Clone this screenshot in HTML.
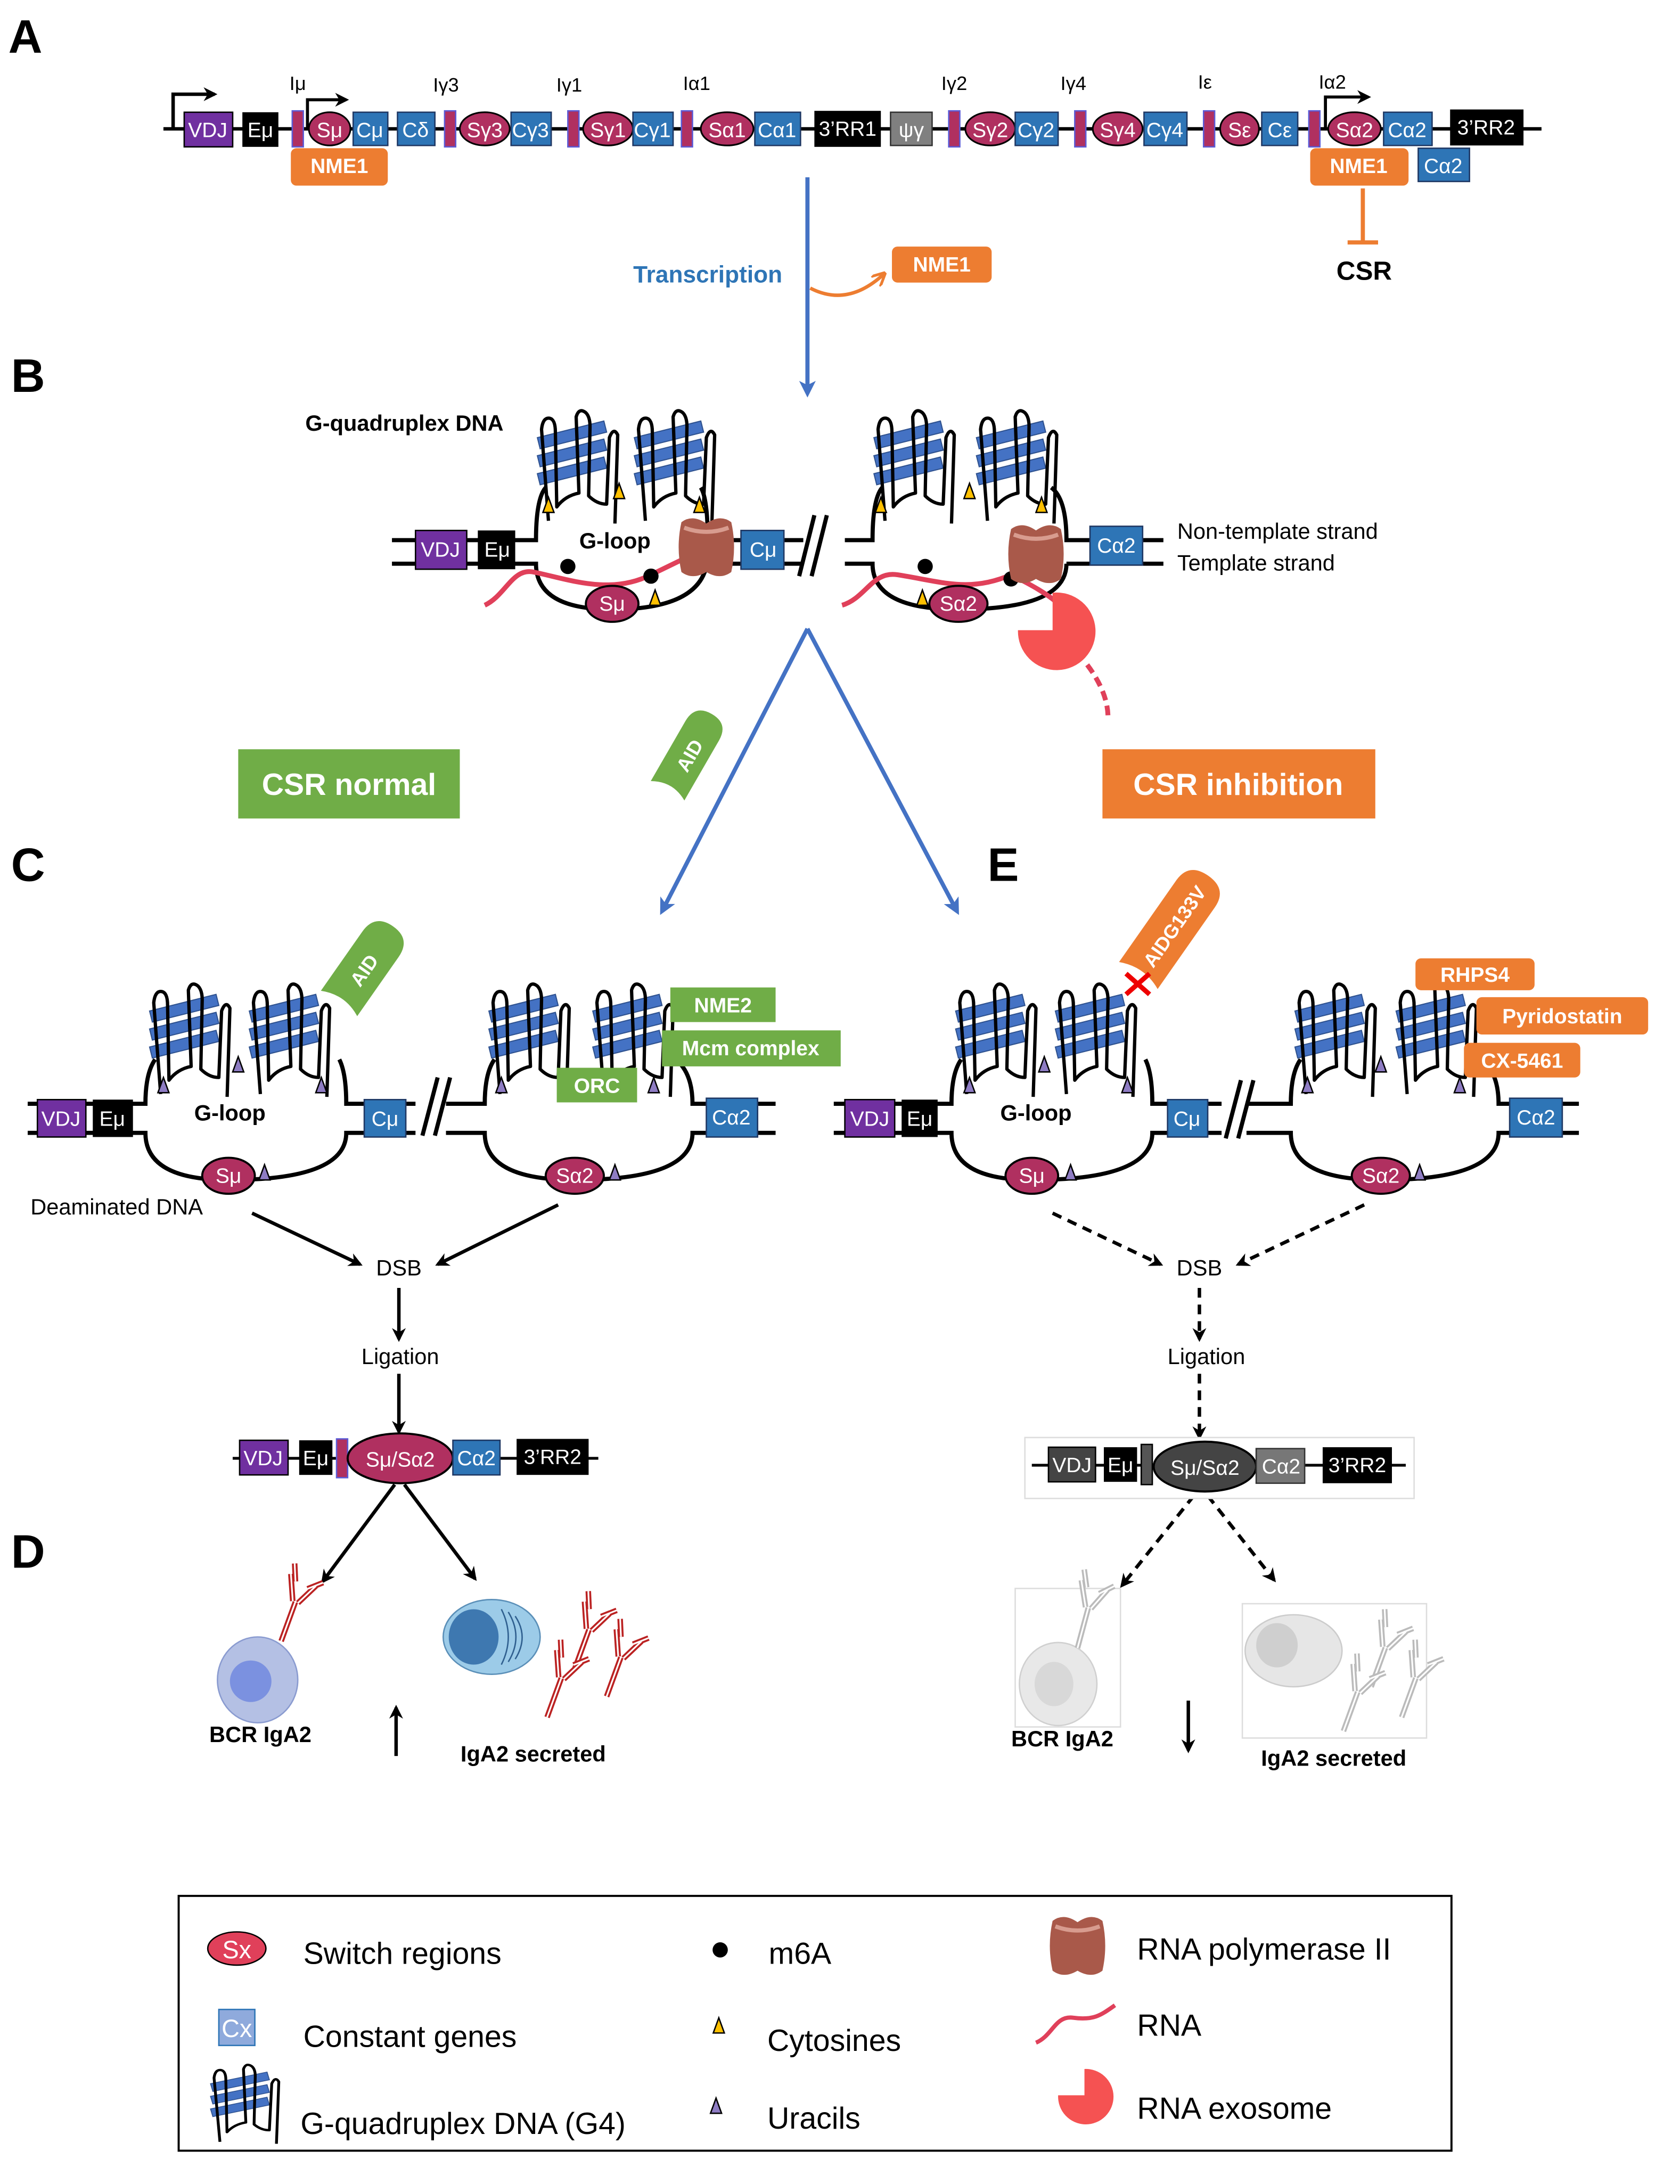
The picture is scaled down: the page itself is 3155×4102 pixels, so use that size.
<!DOCTYPE html>
<html><head><meta charset="utf-8">
<style>
html,body{margin:0;padding:0;background:#fff;}
svg{display:block;}
text{font-family:"Liberation Sans",sans-serif;}
</style></head>
<body>
<svg width="3155" height="4102" viewBox="0 0 1213 1577" xmlns="http://www.w3.org/2000/svg">
<defs>
  <g id="g4">
    <polygon points="0,18 48,6 50,14 2,26" fill="#4472c4" stroke="#2f528f" stroke-width="0.8"/>
    <polygon points="0,31 48,19 50,27 2,39" fill="#4472c4" stroke="#2f528f" stroke-width="0.8"/>
    <polygon points="0,44 48,32 50,40 2,52" fill="#4472c4" stroke="#2f528f" stroke-width="0.8"/>
    <path d="M8,78 L3,12 Q4,3 9,4 Q13,5 13,14 L14,68 Q20,60 30,58 L28,3 Q30,-4 35,0 Q38,3 38,10 L37,60 Q43,66 50,66 L52,18 Q55,10 58,16 L56,80" fill="none" stroke="#000" stroke-width="2.4" stroke-linejoin="round"/>
  </g>
  <g id="cyt"><polygon points="0,-7 4,4 -4,4" fill="#ffc000" stroke="#000" stroke-width="1"/></g>
  <g id="ura"><polygon points="0,-7 4,4 -4,4" fill="#8e7cc3" stroke="#000" stroke-width="1"/></g>
  <g id="pol">
    <path d="M-18,-18 Q-10,-24 0,-17 Q10,-24 18,-18 Q22,0 18,18 Q10,24 0,18 Q-10,24 -18,18 Q-22,0 -18,-18Z" fill="#a9594a"/>
    <path d="M-16,-14 Q0,-8 16,-14" stroke="#d89c8f" stroke-width="3" fill="none"/>
  </g>
  <marker id="ah" markerWidth="10" markerHeight="10" refX="8" refY="5" orient="auto" markerUnits="userSpaceOnUse"><path d="M0,0 L10,5 L0,10 L3,5Z" fill="#000"/></marker>
  <marker id="ahb" markerWidth="12" markerHeight="12" refX="9" refY="6" orient="auto" markerUnits="userSpaceOnUse"><path d="M0,0 L12,6 L0,12 L3,6Z" fill="#4472c4"/></marker>
  <marker id="aho" markerWidth="10" markerHeight="10" refX="8" refY="5" orient="auto" markerUnits="userSpaceOnUse"><path d="M0,0 L10,5 L0,10" fill="none" stroke="#ed7d31" stroke-width="2"/></marker>
  <g id="ab">
    <path d="M0,0 L0,-30 M-2,-30 L-10,-48 M2,-30 L10,-46 M-5,-44 L-10,-56 M5,-42 L14,-50" stroke="#b22" stroke-width="4" fill="none"/>
    <path d="M0,0 L0,-30 M-2,-30 L-10,-48 M2,-30 L10,-46 M-5,-44 L-10,-56 M5,-42 L14,-50" stroke="#fff" stroke-width="1.2" fill="none"/>
  </g>
  <g id="abg">
    <path d="M0,0 L0,-30 M-2,-30 L-10,-48 M2,-30 L10,-46 M-5,-44 L-10,-56 M5,-42 L14,-50" stroke="#bbb" stroke-width="4" fill="none"/>
    <path d="M0,0 L0,-30 M-2,-30 L-10,-48 M2,-30 L10,-46 M-5,-44 L-10,-56 M5,-42 L14,-50" stroke="#fff" stroke-width="1.2" fill="none"/>
  </g>
</defs>

<g font-weight="bold" font-size="34" fill="#000">
<text x="6" y="38">A</text><text x="8" y="283">B</text><text x="8" y="636">C</text><text x="8" y="1132">D</text><text x="713" y="636">E</text>
</g>

<!-- ===== PANEL A ===== -->
<line x1="118" y1="93" x2="1113" y2="93" stroke="#000" stroke-width="2.5"/>
<path d="M125,93 L125,68 L155,68" fill="none" stroke="#000" stroke-width="2.5" marker-end="url(#ah)"/>
<path d="M222,93 L222,72 L250,72" fill="none" stroke="#000" stroke-width="2.2" marker-end="url(#ah)"/>
<path d="M957,93 L957,70 L988,70" fill="none" stroke="#000" stroke-width="2.2" marker-end="url(#ah)"/>
<g font-size="15" fill="#fff" text-anchor="middle">
<rect x="133" y="81" width="35" height="25" fill="#7030a0" stroke="#000"/><text x="150" y="99">VDJ</text>
<rect x="175" y="81" width="26" height="25" fill="#000"/><text x="188" y="99">Eμ</text>
<g fill="#b03060" stroke="#5b5bd6" stroke-width="1">
<rect x="211" y="80" width="8" height="26"/><rect x="321" y="80" width="8" height="26"/><rect x="410" y="80" width="8" height="26"/><rect x="492" y="80" width="8" height="26"/><rect x="685" y="80" width="8" height="26"/><rect x="776" y="80" width="8" height="26"/><rect x="869" y="80" width="8" height="26"/><rect x="945" y="80" width="8" height="26"/>
</g>
<g fill="#b03060" stroke="#000" stroke-width="1.2">
<ellipse cx="238" cy="93" rx="15" ry="12"/><ellipse cx="350" cy="93" rx="18" ry="12"/><ellipse cx="439" cy="93" rx="18" ry="12"/><ellipse cx="525" cy="93" rx="19" ry="12"/><ellipse cx="715" cy="93" rx="18" ry="12"/><ellipse cx="807" cy="93" rx="18" ry="12"/><ellipse cx="895" cy="93" rx="14" ry="12"/><ellipse cx="978" cy="93" rx="19" ry="12"/>
</g>
<text x="238" y="99">Sμ</text><text x="350" y="99">Sγ3</text><text x="439" y="99">Sγ1</text><text x="525" y="99">Sα1</text><text x="715" y="99">Sγ2</text><text x="807" y="99">Sγ4</text><text x="895" y="99">Sε</text><text x="978" y="99">Sα2</text>
<g fill="#2e75b6" stroke="#1f3864" stroke-width="1">
<rect x="255" y="81" width="25" height="24"/><rect x="287" y="81" width="27" height="24"/><rect x="369" y="81" width="29" height="24"/><rect x="457" y="81" width="29" height="24"/><rect x="545" y="81" width="33" height="24"/><rect x="733" y="81" width="31" height="24"/><rect x="826" y="81" width="31" height="24"/><rect x="911" y="81" width="26" height="24"/><rect x="999" y="81" width="35" height="24"/><rect x="1024" y="107" width="37" height="24"/>
</g>
<text x="267" y="99">Cμ</text><text x="300" y="99">Cδ</text><text x="383" y="99">Cγ3</text><text x="471" y="99">Cγ1</text><text x="561" y="99">Cα1</text><text x="748" y="99">Cγ2</text><text x="841" y="99">Cγ4</text><text x="924" y="99">Cε</text><text x="1016" y="99">Cα2</text><text x="1042" y="125">Cα2</text>
<rect x="588" y="80" width="48" height="26" fill="#000"/><text x="612" y="98">3’RR1</text>
<rect x="643" y="81" width="30" height="24" fill="#808080" stroke="#333"/><text x="658" y="99">ψγ</text>
<rect x="1047" y="79" width="53" height="26" fill="#000"/><text x="1073" y="97">3’RR2</text>
</g>
<g font-size="14" fill="#000" text-anchor="middle">
<text x="215" y="65">Iμ</text><text x="322" y="66">Iγ3</text><text x="411" y="66">Iγ1</text><text x="503" y="65">Iα1</text><text x="689" y="65">Iγ2</text><text x="775" y="65">Iγ4</text><text x="870" y="64">Iε</text><text x="962" y="64">Iα2</text>
</g>
<g font-size="15" font-weight="bold" fill="#fff" text-anchor="middle">
<rect x="210" y="107" width="70" height="27" rx="4" fill="#ed7d31"/><text x="245" y="125">NME1</text>
<rect x="946" y="107" width="71" height="27" rx="4" fill="#ed7d31"/><text x="981" y="125">NME1</text>
<rect x="644" y="178" width="72" height="26" rx="4" fill="#ed7d31"/><text x="680" y="196">NME1</text>
</g>
<line x1="984" y1="136" x2="984" y2="175" stroke="#ed7d31" stroke-width="3"/>
<line x1="973" y1="175" x2="995" y2="175" stroke="#ed7d31" stroke-width="3"/>
<text x="985" y="202" font-size="19" font-weight="bold" text-anchor="middle">CSR</text>
<line x1="583" y1="128" x2="583" y2="284" stroke="#4472c4" stroke-width="3" marker-end="url(#ahb)"/>
<text x="511" y="204" font-size="17" font-weight="bold" fill="#2e75b6" text-anchor="middle">Transcription</text>
<path d="M585,208 Q612,222 638,198" fill="none" stroke="#ed7d31" stroke-width="2.5" marker-end="url(#aho)"/>

<!-- ===== PANEL B ===== -->
<text x="292" y="311" font-size="16" font-weight="bold" text-anchor="middle">G-quadruplex DNA</text>
<g stroke="#000" stroke-width="3" fill="none">
<path d="M283,390 L387,390 Q387,360 394,352"/><path d="M283,407 L387,407 Q387,440 442,440 Q511,440 511,400 L511,390"/>
<path d="M506,352 Q511,360 511,390 L580,390"/><path d="M511,407 L580,407"/>
<path d="M610,390 L630,390 Q630,360 637,352"/><path d="M610,407 L630,407 Q630,440 692,440 Q770,440 770,407"/>
<path d="M759,352 Q770,360 770,390 L840,390"/><path d="M770,407 L840,407"/>
<path d="M577,416 L588,372 M586,416 L597,372"/>
</g>
<use href="#g4" x="388" y="298"/><use href="#g4" x="458" y="298"/>
<use href="#g4" x="631" y="298"/><use href="#g4" x="705" y="298"/>
<use href="#cyt" x="447" y="356"/><use href="#cyt" x="396" y="366"/><use href="#cyt" x="505" y="366"/><use href="#cyt" x="473" y="433"/>
<use href="#cyt" x="700" y="356"/><use href="#cyt" x="636" y="366"/><use href="#cyt" x="752" y="366"/><use href="#cyt" x="666" y="433"/>
<path d="M350,437 C365,430 370,410 385,413 C410,418 440,430 470,415 L505,398" fill="none" stroke="#e0405a" stroke-width="3.5"/>
<path d="M608,437 C625,432 630,412 648,415 C680,420 700,428 730,415 C740,420 760,430 768,440" fill="none" stroke="#e0405a" stroke-width="3.5"/>
<path d="M785,480 Q800,500 800,518" fill="none" stroke="#e0405a" stroke-width="3.5" stroke-dasharray="7,4"/>
<circle cx="410" cy="409" r="5.5"/><circle cx="470" cy="416" r="5.5"/><circle cx="668" cy="409" r="5.5"/><circle cx="730" cy="418" r="5.5"/>
<use href="#pol" x="510" y="395"/><use href="#pol" x="748" y="400"/>
<path d="M760,455 L760,428 A28,28 0 1 1 735,455 Z" fill="#f55252"/>
<g font-size="15" fill="#fff" text-anchor="middle">
<rect x="300" y="383" width="37" height="28" fill="#7030a0" stroke="#000"/><text x="318" y="402">VDJ</text>
<rect x="345" y="383" width="27" height="28" fill="#000"/><text x="359" y="402">Eμ</text>
<rect x="535" y="383" width="31" height="28" fill="#2e75b6" stroke="#1f3864"/><text x="551" y="402">Cμ</text>
<rect x="787" y="380" width="38" height="28" fill="#2e75b6" stroke="#1f3864"/><text x="806" y="399">Cα2</text>
<ellipse cx="442" cy="436" rx="19" ry="13" fill="#b03060" stroke="#000" stroke-width="1.5"/><text x="442" y="441">Sμ</text>
<ellipse cx="692" cy="436" rx="21" ry="13" fill="#b03060" stroke="#000" stroke-width="1.5"/><text x="692" y="441">Sα2</text>
</g>
<text x="444" y="396" font-size="16" font-weight="bold" text-anchor="middle">G-loop</text>
<text x="850" y="389" font-size="16">Non-template strand</text>
<text x="850" y="412" font-size="16">Template strand</text>
<line x1="583" y1="454" x2="691" y2="658" stroke="#4472c4" stroke-width="3" marker-end="url(#ahb)"/>
<line x1="583" y1="454" x2="478" y2="658" stroke="#4472c4" stroke-width="3" marker-end="url(#ahb)"/>
<rect x="172" y="541" width="160" height="50" fill="#70ad47"/><text x="252" y="574" font-size="22" font-weight="bold" fill="#fff" text-anchor="middle">CSR normal</text>
<rect x="796" y="541" width="197" height="50" fill="#ed7d31"/><text x="894" y="574" font-size="22" font-weight="bold" fill="#fff" text-anchor="middle">CSR inhibition</text>
<g transform="translate(497,545) rotate(-60)">
<path d="M-30,-14 L20,-14 Q34,-14 34,0 Q34,14 20,14 L-30,14 Q-22,0 -30,-14Z" fill="#70ad47"/>
<text x="0" y="6" font-size="14" font-weight="bold" fill="#fff" text-anchor="middle">AID</text></g>

<!-- ===== PANEL C ===== -->
<g stroke="#000" stroke-width="3" fill="none">
<path d="M20,797 L105,797 Q105,775 112,765"/><path d="M20,818 L105,818 Q105,852 165,852 Q250,852 250,818 L300,818"/>
<path d="M245,765 Q250,775 250,797 L300,797"/>
<path d="M305,820 L316,778 M314,820 L325,778"/>
<path d="M322,797 L350,797 Q350,775 357,765"/><path d="M322,818 L350,818 Q350,852 415,852 Q500,852 500,818 L560,818"/>
<path d="M488,765 Q500,775 500,797 L560,797"/>
</g>
<use href="#g4" x="108" y="712"/><use href="#g4" x="180" y="712"/>
<use href="#g4" x="353" y="712"/><use href="#g4" x="428" y="712"/>
<use href="#ura" x="172" y="770"/><use href="#ura" x="118" y="785"/><use href="#ura" x="232" y="785"/><use href="#ura" x="191" y="848"/>
<use href="#ura" x="362" y="785"/><use href="#ura" x="472" y="785"/><use href="#ura" x="444" y="848"/>
<g font-size="15" fill="#fff" text-anchor="middle">
<rect x="27" y="794" width="35" height="27" fill="#7030a0" stroke="#000"/><text x="44" y="813">VDJ</text>
<rect x="67" y="794" width="29" height="27" fill="#000"/><text x="81" y="813">Eμ</text>
<rect x="263" y="794" width="30" height="27" fill="#2e75b6" stroke="#1f3864"/><text x="278" y="813">Cμ</text>
<rect x="510" y="793" width="37" height="28" fill="#2e75b6" stroke="#1f3864"/><text x="528" y="812">Cα2</text>
<ellipse cx="165" cy="849" rx="19" ry="13" fill="#b03060" stroke="#000" stroke-width="1.5"/><text x="165" y="854">Sμ</text>
<ellipse cx="415" cy="849" rx="21" ry="13" fill="#b03060" stroke="#000" stroke-width="1.5"/><text x="415" y="854">Sα2</text>
</g>
<text x="166" y="809" font-size="16" font-weight="bold" text-anchor="middle">G-loop</text>
<g transform="translate(262,700) rotate(-55)">
<path d="M-30,-16 L22,-16 Q38,-16 38,0 Q38,16 22,16 L-30,16 Q-22,0 -30,-16Z" fill="#70ad47"/>
<text x="0" y="6" font-size="14" font-weight="bold" fill="#fff" text-anchor="middle">AID</text></g>
<g font-size="15" font-weight="bold" fill="#fff" text-anchor="middle">
<rect x="484" y="713" width="76" height="25" fill="#70ad47"/><text x="522" y="731">NME2</text>
<rect x="478" y="744" width="129" height="26" fill="#70ad47"/><text x="542" y="762">Mcm complex</text>
<rect x="402" y="771" width="58" height="25" fill="#70ad47"/><text x="431" y="789">ORC</text>
</g>
<text x="22" y="877" font-size="16">Deaminated DNA</text>
<line x1="182" y1="876" x2="260" y2="913" stroke="#000" stroke-width="2.5" marker-end="url(#ah)"/>
<line x1="403" y1="870" x2="316" y2="913" stroke="#000" stroke-width="2.5" marker-end="url(#ah)"/>
<text x="288" y="921" font-size="16" text-anchor="middle">DSB</text>
<line x1="288" y1="930" x2="288" y2="967" stroke="#000" stroke-width="2.5" marker-end="url(#ah)"/>
<text x="289" y="985" font-size="16" text-anchor="middle">Ligation</text>
<line x1="288" y1="992" x2="288" y2="1034" stroke="#000" stroke-width="2.5" marker-end="url(#ah)"/>
<line x1="168" y1="1053" x2="432" y2="1053" stroke="#000" stroke-width="2"/>
<g font-size="15" fill="#fff" text-anchor="middle">
<rect x="173" y="1040" width="35" height="25" fill="#7030a0" stroke="#000"/><text x="190" y="1058">VDJ</text>
<rect x="216" y="1040" width="24" height="25" fill="#000"/><text x="228" y="1058">Eμ</text>
<rect x="243" y="1039" width="8" height="28" fill="#b03060" stroke="#5b5bd6"/>
<ellipse cx="289" cy="1053" rx="38" ry="18" fill="#b03060" stroke="#000" stroke-width="1.5"/><text x="289" y="1059">Sμ/Sα2</text>
<rect x="327" y="1040" width="34" height="25" fill="#2e75b6" stroke="#1f3864"/><text x="344" y="1058">Cα2</text>
<rect x="373" y="1039" width="52" height="26" fill="#000"/><text x="399" y="1057">3’RR2</text>
</g>
<line x1="285" y1="1072" x2="233" y2="1142" stroke="#000" stroke-width="2.5" marker-end="url(#ah)"/>
<line x1="292" y1="1072" x2="343" y2="1140" stroke="#000" stroke-width="2.5" marker-end="url(#ah)"/>
<ellipse cx="186" cy="1213" rx="29" ry="31" fill="#b4c0e4" stroke="#8a9bd0"/>
<ellipse cx="181" cy="1214" rx="15" ry="15" fill="#7b91e0"/>
<use href="#ab" transform="translate(203,1185) rotate(20)"/>
<ellipse cx="355" cy="1182" rx="35" ry="27" fill="#9ccbe8" stroke="#5a8fb8"/>
<ellipse cx="342" cy="1182" rx="18" ry="20" fill="#3e78b0"/>
<path d="M362,1162 Q372,1182 362,1202 M367,1164 Q378,1182 367,1200 M372,1167 Q382,1182 372,1198" stroke="#2f5f8f" stroke-width="1" fill="none"/>
<use href="#ab" transform="translate(415,1205) rotate(20)"/>
<use href="#ab" transform="translate(438,1225) rotate(20)"/>
<use href="#ab" transform="translate(395,1240) rotate(20)"/>
<text x="188" y="1258" font-size="16" font-weight="bold" text-anchor="middle">BCR IgA2</text>
<text x="385" y="1272" font-size="16" font-weight="bold" text-anchor="middle">IgA2 secreted</text>
<line x1="286" y1="1268" x2="286" y2="1233" stroke="#000" stroke-width="2.5" marker-end="url(#ah)"/>

<!-- ===== PANEL E ===== -->
<g stroke="#000" stroke-width="3" fill="none">
<path d="M602,797 L687,797 Q687,775 694,765"/><path d="M602,818 L687,818 Q687,852 745,852 Q832,852 832,818 L882,818"/>
<path d="M827,765 Q832,775 832,797 L882,797"/>
<path d="M885,822 L896,780 M894,822 L905,780"/>
<path d="M900,797 L932,797 Q932,775 939,765"/><path d="M900,818 L932,818 Q932,852 997,852 Q1082,852 1082,818 L1140,818"/>
<path d="M1070,765 Q1082,775 1082,797 L1140,797"/>
</g>
<use href="#g4" x="690" y="712"/><use href="#g4" x="762" y="712"/>
<use href="#g4" x="935" y="712"/><use href="#g4" x="1008" y="712"/>
<use href="#ura" x="754" y="770"/><use href="#ura" x="700" y="785"/><use href="#ura" x="814" y="785"/><use href="#ura" x="773" y="848"/>
<use href="#ura" x="997" y="770"/><use href="#ura" x="944" y="785"/><use href="#ura" x="1054" y="785"/><use href="#ura" x="1025" y="848"/>
<g font-size="15" fill="#fff" text-anchor="middle">
<rect x="610" y="794" width="36" height="27" fill="#7030a0" stroke="#000"/><text x="628" y="813">VDJ</text>
<rect x="651" y="794" width="26" height="27" fill="#000"/><text x="664" y="813">Eμ</text>
<rect x="843" y="794" width="29" height="27" fill="#2e75b6" stroke="#1f3864"/><text x="857" y="813">Cμ</text>
<rect x="1090" y="793" width="38" height="28" fill="#2e75b6" stroke="#1f3864"/><text x="1109" y="812">Cα2</text>
<ellipse cx="745" cy="849" rx="19" ry="13" fill="#b03060" stroke="#000" stroke-width="1.5"/><text x="745" y="854">Sμ</text>
<ellipse cx="997" cy="849" rx="21" ry="13" fill="#b03060" stroke="#000" stroke-width="1.5"/><text x="997" y="854">Sα2</text>
</g>
<text x="748" y="809" font-size="16" font-weight="bold" text-anchor="middle">G-loop</text>
<g transform="translate(846,670) rotate(-55)">
<path d="M-42,-17 L30,-17 Q46,-17 46,0 Q46,17 30,17 L-42,17 Q-34,0 -42,-17Z" fill="#ed7d31"/>
<text x="2" y="6" font-size="14" font-weight="bold" fill="#fff" text-anchor="middle">AIDG133V</text></g>
<path d="M813,703 L830,718 M830,703 L813,718" stroke="#e00" stroke-width="3.5"/>
<g font-size="15" font-weight="bold" fill="#fff" text-anchor="middle">
<rect x="1022" y="692" width="86" height="23" rx="4" fill="#ed7d31"/><text x="1065" y="709">RHPS4</text>
<rect x="1066" y="720" width="124" height="27" rx="4" fill="#ed7d31"/><text x="1128" y="739">Pyridostatin</text>
<rect x="1057" y="753" width="84" height="25" rx="4" fill="#ed7d31"/><text x="1099" y="771">CX-5461</text>
</g>
<g stroke="#000" stroke-width="2.5" stroke-dasharray="7,5" fill="none">
<line x1="760" y1="876" x2="838" y2="913" marker-end="url(#ah)"/>
<line x1="985" y1="870" x2="894" y2="913" marker-end="url(#ah)"/>
<line x1="866" y1="930" x2="866" y2="967" marker-end="url(#ah)"/>
<line x1="866" y1="992" x2="866" y2="1038" marker-end="url(#ah)"/>
<line x1="862" y1="1080" x2="810" y2="1145" marker-end="url(#ah)"/>
<line x1="872" y1="1080" x2="920" y2="1141" marker-end="url(#ah)"/>
</g>
<text x="866" y="921" font-size="16" text-anchor="middle">DSB</text>
<text x="871" y="985" font-size="16" text-anchor="middle">Ligation</text>
<rect x="740" y="1038" width="281" height="44" fill="#fff" stroke="#ddd"/>
<line x1="745" y1="1058" x2="1015" y2="1058" stroke="#000" stroke-width="2"/>
<g font-size="15" fill="#fff" text-anchor="middle">
<rect x="757" y="1045" width="34" height="25" fill="#444" stroke="#000"/><text x="774" y="1063">VDJ</text>
<rect x="797" y="1045" width="24" height="25" fill="#000"/><text x="809" y="1063">Eμ</text>
<rect x="824" y="1043" width="8" height="29" fill="#555" stroke="#000"/>
<ellipse cx="870" cy="1059" rx="37" ry="18" fill="#444" stroke="#000" stroke-width="1.5"/><text x="870" y="1065">Sμ/Sα2</text>
<rect x="907" y="1046" width="35" height="25" fill="#777" stroke="#333"/><text x="925" y="1064">Cα2</text>
<rect x="955" y="1045" width="50" height="26" fill="#000"/><text x="980" y="1063">3’RR2</text>
</g>
<rect x="733" y="1147" width="76" height="100" fill="#fff" stroke="#ddd"/>
<ellipse cx="764" cy="1216" rx="28" ry="30" fill="#e8e8e8" stroke="#d0d0d0"/>
<ellipse cx="761" cy="1216" rx="14" ry="16" fill="#d8d8d8"/>
<use href="#abg" transform="translate(778,1190) rotate(15)"/>
<rect x="897" y="1158" width="133" height="97" fill="#fff" stroke="#ddd"/>
<ellipse cx="934" cy="1192" rx="35" ry="26" fill="#e6e6e6" stroke="#ccc"/>
<ellipse cx="922" cy="1188" rx="15" ry="16" fill="#cfcfcf"/>
<use href="#abg" transform="translate(990,1218) rotate(20)"/>
<use href="#abg" transform="translate(1012,1240) rotate(20)"/>
<use href="#abg" transform="translate(970,1250) rotate(20)"/>
<text x="767" y="1261" font-size="16" font-weight="bold" text-anchor="middle">BCR IgA2</text>
<text x="963" y="1275" font-size="16" font-weight="bold" text-anchor="middle">IgA2 secreted</text>
<line x1="858" y1="1228" x2="858" y2="1264" stroke="#000" stroke-width="2.5" marker-end="url(#ah)"/>

<!-- ===== LEGEND ===== -->
<rect x="129" y="1369" width="919" height="184" fill="#fff" stroke="#000" stroke-width="1.5"/>
<g font-size="22" fill="#000">
<ellipse cx="171" cy="1407" rx="21" ry="12" fill="#e0405a" stroke="#000"/><text x="171" y="1414" font-size="18" fill="#fff" text-anchor="middle">Sx</text>
<text x="219" y="1418">Switch regions</text>
<rect x="158" y="1451" width="26" height="26" fill="#8faadc" stroke="#2e75b6"/><text x="171" y="1471" font-size="18" fill="#fff" text-anchor="middle">Cx</text>
<text x="219" y="1478">Constant genes</text>
<use href="#g4" transform="translate(152,1492) scale(0.85,0.7)"/>
<text x="217" y="1541">G-quadruplex DNA (G4)</text>
<circle cx="520" cy="1408" r="5.5"/><text x="555" y="1418">m6A</text>
<use href="#cyt" x="519" y="1464"/><text x="554" y="1481">Cytosines</text>
<use href="#ura" x="517" y="1522"/><text x="554" y="1537">Uracils</text>
<use href="#pol" x="778" y="1405"/><text x="821" y="1415">RNA polymerase II</text>
<path d="M748,1475 C760,1470 762,1455 775,1457 C790,1459 795,1455 805,1448" fill="none" stroke="#e0405a" stroke-width="3"/>
<text x="821" y="1470">RNA</text>
<path d="M783,1513 L783,1494 A20,20 0 1 1 764,1513 Z" fill="#f55252"/>
<text x="821" y="1530">RNA exosome</text>
</g>
</svg>
</body></html>
